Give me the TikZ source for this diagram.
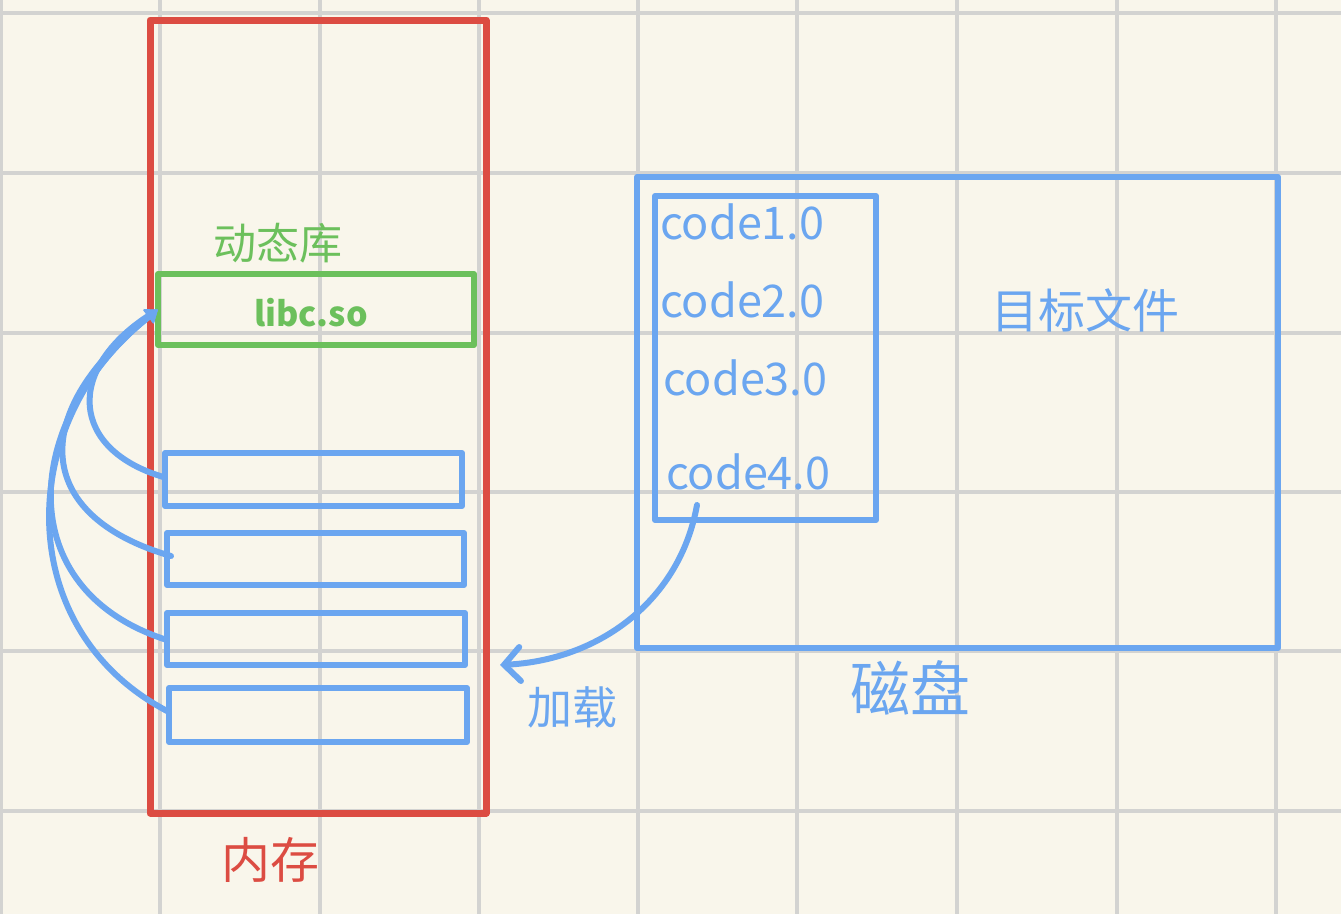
\documentclass[tikz,border=0pt]{standalone}
\usepackage{fontspec}
\setmainfont{Noto Sans CJK SC}
\usetikzlibrary{arrows.meta,calc}
\definecolor{bg}{HTML}{F9F6EB}
\definecolor{gridc}{HTML}{D3D3D1}
\definecolor{memred}{HTML}{DC4C42}
\definecolor{libgreen}{HTML}{6CC05C}
\definecolor{blu}{HTML}{6BA6F0}
\tikzset{
  box/.style={draw, rectangle, inner sep=0pt, outer sep=0pt, line width=6pt, line join=round},
  membox/.style={box, draw=memred, line width=7pt},
  libbox/.style={box, draw=libgreen},
  bluebox/.style={box, draw=blu},
  txt/.style={inner sep=0pt, outer sep=0pt},
  codetxt/.style={txt, text=blu, anchor=west, font=\fontsize{45}{45}\selectfont},
  gridline/.style={draw=gridc, line width=4pt},
  link/.style={draw=blu, line width=6pt, line cap=round, -{Triangle[length=12pt,width=16pt]}},
  load/.style={draw=blu, line width=6pt, line cap=round, -{Straight Barb[length=16pt,width=34pt,line cap=round]}},
}
\begin{document}
\begin{tikzpicture}[x=1pt,y=-1pt]
\useasboundingbox (0,0) rectangle (1341,914);
\fill[bg] (0,0) rectangle (1341,914);
% grid
\foreach \gx in {1,160,320,479,638,797,957,1117,1276}
  \draw[gridline] (\gx,0) -- (\gx,914);
\foreach \gy in {13,173,333,492,651,811}
  \draw[gridline] (0,\gy) -- (1341,\gy);

% memory
\node[membox, minimum width=336pt, minimum height=793pt] (mem) at (318,416.5) {};
\node[libbox, minimum width=316pt, minimum height=71pt] (libc) at (316,309.5) {};
\node[txt, text=libgreen, font=\fontsize{34}{34}\selectfont\bfseries] (libctext) at (311,313) {libc.so};
\node[txt, text=libgreen, font=\fontsize{43}{43}\selectfont] (dyn) at (278,243) {动态库};

\node[bluebox, minimum width=297pt, minimum height=53pt] (r1) at (313.5,479.5) {};
\node[bluebox, minimum width=297pt, minimum height=52pt] (r2) at (315.5,559) {};
\node[bluebox, minimum width=298pt, minimum height=52pt] (r3) at (316,639) {};
\node[bluebox, minimum width=298pt, minimum height=54pt] (r4) at (318,715) {};

\node[txt, text=memred, font=\fontsize{49}{49}\selectfont] (memlbl) at (270,860) {内存};

% disk
\node[bluebox, minimum width=641pt, minimum height=471pt] (disk) at (957.5,412.5) {};
\node[bluebox, minimum width=221pt, minimum height=324pt] (obj) at (765.5,358) {};
\node[codetxt] (c1) at (660,222) {code1.0};
\node[codetxt] (c2) at (660,300) {code2.0};
\node[codetxt] (c3) at (663,378) {code3.0};
\node[codetxt] (c4) at (666,472) {code4.0};
\node[txt, text=blu, font=\fontsize{47}{47}\selectfont] (objlbl) at (1085,310) {目标文件};
\node[txt, text=blu, font=\fontsize{60}{60}\selectfont] (disklbl) at (910,688) {磁盘};
\node[txt, text=blu, font=\fontsize{45}{45}\selectfont] (loadlbl) at (572,707) {加载};

% links to libc
\draw[link] ($(r1.west)+(0,-2)$) .. controls (70,450) and (65,370) .. (libc.west);
\draw[link] ($(r2.west)+(4,-3)$) .. controls (30,515) and (30,410) .. (libc.west);
\draw[link] ($(r3.west)+(0,1)$) .. controls (10,590) and (20,420) .. (libc.west);
\draw[link] ($(r4.west)+(0,-3)$) .. controls (10,630) and (15,420) .. (libc.west);

% load arrow
\coordinate (loadend) at ($(mem.east)+(14,248.5)$);
\draw[load] ($(obj.south west)+(42,-15)$) .. controls (680,600) and (600,660) .. (loadend);
\end{tikzpicture}
\end{document}
